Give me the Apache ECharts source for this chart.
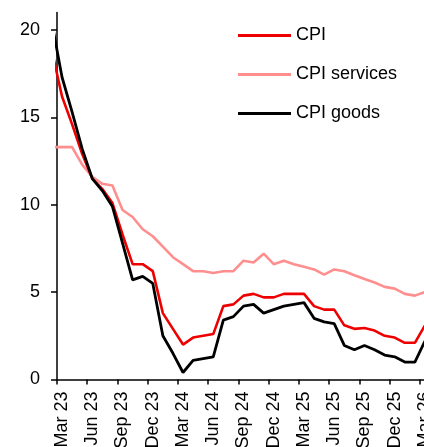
<!DOCTYPE html>
<html>
<head>
<meta charset="utf-8">
<script src="https://cdn.jsdelivr.net/npm/echarts@6/dist/echarts.min.js"></script>
<style>
  html, body { margin: 0; padding: 0; background: #fff; }
  #chart { width: 424px; height: 447px; }
</style>
</head>
<body>
<div id="chart"></div>
<script>
// Monthly observations (first month lies before the axis start and is clipped)
const months = ['Feb 23','Mar 23','Apr 23','May 23','Jun 23','Jul 23','Aug 23','Sep 23','Oct 23','Nov 23','Dec 23',
  'Jan 24','Feb 24','Mar 24','Apr 24','May 24','Jun 24','Jul 24','Aug 24','Sep 24','Oct 24','Nov 24','Dec 24',
  'Jan 25','Feb 25','Mar 25','Apr 25','May 25','Jun 25','Jul 25','Aug 25','Sep 25','Oct 25','Nov 25','Dec 25',
  'Jan 26','Feb 26','Mar 26'];

const cpi = [18.8, 16.2, 14.6, 12.9, 11.5, 10.9, 10.1, 8.3, 6.6, 6.6, 6.2,
  3.8, 2.9, 2.0, 2.4, 2.5, 2.6, 4.2, 4.3, 4.8, 4.9, 4.7, 4.7,
  4.9, 4.9, 4.9, 4.2, 4.0, 4.0, 3.1, 2.9, 2.95, 2.8, 2.5, 2.4,
  2.1, 2.1, 3.1];

const cpiServices = [13.3, 13.3, 13.3, 12.3, 11.6, 11.2, 11.1, 9.7, 9.3, 8.6, 8.2,
  7.6, 7.0, 6.6, 6.2, 6.2, 6.1, 6.2, 6.2, 6.8, 6.7, 7.2, 6.6,
  6.8, 6.6, 6.45, 6.3, 6.0, 6.3, 6.2, 5.97, 5.75, 5.55, 5.3, 5.2,
  4.9, 4.8, 5.0];

const cpiGoods = [20.4, 17.3, 15.3, 13.2, 11.5, 10.8, 9.9, 7.8, 5.7, 5.9, 5.5,
  2.5, 1.5, 0.4, 1.1, 1.2, 1.3, 3.4, 3.6, 4.2, 4.3, 3.8, 4.0,
  4.2, 4.3, 4.4, 3.5, 3.3, 3.2, 1.95, 1.7, 1.95, 1.7, 1.4, 1.3,
  1.0, 1.0, 2.2];

const seriesNames = ['CPI', 'CPI services', 'CPI goods'];
const yTicks = [0, 5, 10, 15, 20];

const FONT = '"Liberation Sans", Arial, Helvetica, sans-serif';
// points sit mid-month: month k (from Mar 23 = 0) is at k + 0.5
const toPairs = arr => arr.map((v, i) => [i - 0.5, v]);

const chart = echarts.init(document.getElementById('chart'), null, { renderer: 'canvas' });
chart.setOption({
  animation: false,
  backgroundColor: '#ffffff',
  grid: { left: 57, top: 12.6, width: 373, height: 366.9, containLabel: false, outerBoundsMode: 'none' },
  legend: {
    orient: 'vertical',
    left: 238,
    top: 26.5,
    padding: 0,
    itemWidth: 53,
    itemHeight: 3,
    itemGap: 21,
    icon: 'rect',
    data: seriesNames,
    textStyle: { fontSize: 18, lineHeight: 18, color: '#000', fontFamily: FONT }
  },
  xAxis: [
    {
      type: 'value', position: 'bottom', min: 0, max: 37, interval: 3,
      axisLine: { show: true, onZero: false, lineStyle: { color: '#000', width: 1.5 } },
      axisTick: { show: true, length: 5, lineStyle: { color: '#000', width: 1.5 } },
      axisLabel: { show: false },
      splitLine: { show: false }
    },
    {
      type: 'category', position: 'bottom', data: months.slice(1), boundaryGap: true,
      axisLine: { show: false, onZero: false },
      axisTick: { show: false },
      axisLabel: { interval: 2, rotate: 90, margin: 12, fontSize: 18, color: '#000', fontFamily: FONT },
      splitLine: { show: false }
    }
  ],
  yAxis: {
    type: 'value', min: yTicks[0], max: 21, interval: 5,
    axisLine: { show: true, lineStyle: { color: '#000', width: 1.5 } },
    axisTick: { show: true, length: 6, lineStyle: { color: '#000', width: 1.5 } },
    axisLabel: { margin: 17, fontSize: 18, color: '#000', fontFamily: FONT },
    splitLine: { show: false }
  },
  series: [
    { name: seriesNames[0], type: 'line', xAxisIndex: 0, data: toPairs(cpi), showSymbol: false, symbol: 'none',
      clip: true, z: 3, color: '#ee0000', lineStyle: { color: '#ee0000', width: 2.6 } },
    { name: seriesNames[1], type: 'line', xAxisIndex: 0, data: toPairs(cpiServices), showSymbol: false, symbol: 'none',
      clip: true, z: 2, color: '#ff8f8f', lineStyle: { color: '#ff8f8f', width: 2.6 } },
    { name: seriesNames[2], type: 'line', xAxisIndex: 0, data: toPairs(cpiGoods), showSymbol: false, symbol: 'none',
      clip: true, z: 4, color: '#000000', lineStyle: { color: '#000000', width: 2.8 } }
  ]
});
</script>
</body>
</html>
